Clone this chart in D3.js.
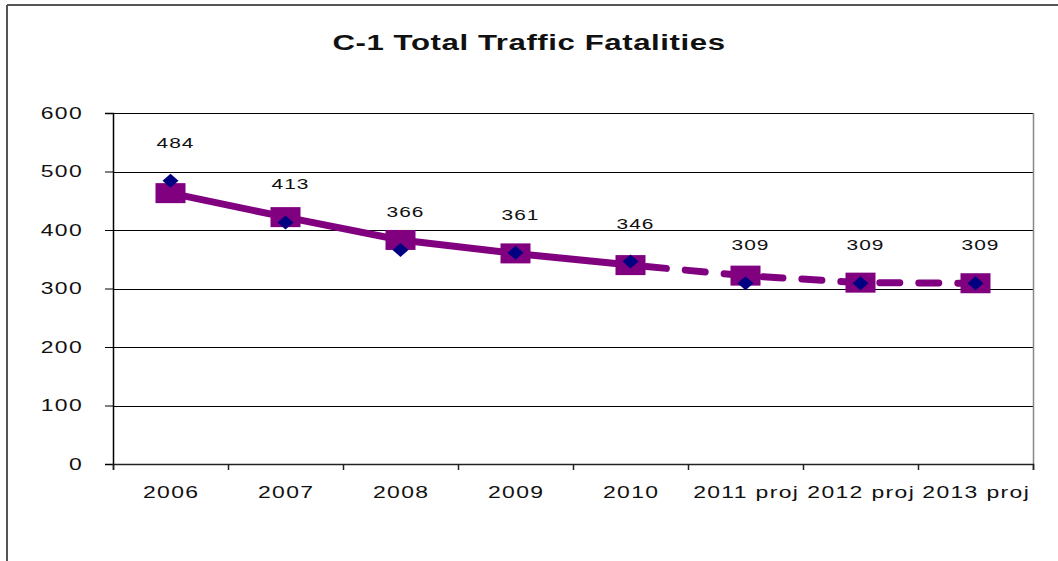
<!DOCTYPE html>
<html>
<head>
<meta charset="utf-8">
<script src="https://cdn.jsdelivr.net/npm/d3@7/dist/d3.min.js"></script>
<style>
  html, body { margin: 0; padding: 0; background: #fff; }
  svg { display: block; }
  text { font-family: "Liberation Sans", Arial, sans-serif; fill: #111; }
</style>
</head>
<body>
<svg id="chart" width="1058" height="561"></svg>
<script>
// ---- data ----
const categories = ["2006", "2007", "2008", "2009", "2010", "2011 proj", "2012 proj", "2013 proj"];
const actualValues = [484, 413, 366, 361, 346, 309, 309, 309];
const trendValues = [463, 422, 383, 360, 340, 322, 310, 309];
const projectedStart = 4; // index where dashed (projected) segment begins
const yTicks = [0, 100, 200, 300, 400, 500, 600];
const titleText = "C-1 Total Traffic Fatalities";

// ---- layout ----
const W = 1058, H = 561;
const plot = { left: 113, right: 1033, top: 113, bottom: 464 };
const STRETCH = 1.35;

const svg = d3.select("#chart");

// outer frame (left + top)
svg.append("line").attr("x1", 7).attr("x2", 7).attr("y1", 5).attr("y2", H)
  .attr("stroke", "#555").attr("stroke-width", 2);
svg.append("line").attr("x1", 7).attr("x2", W).attr("y1", 5).attr("y2", 5)
  .attr("stroke", "#555").attr("stroke-width", 2);

const x = d3.scaleBand().domain(categories).range([plot.left, plot.right]).padding(0);
const xEdge = d3.scaleLinear().domain([0, categories.length]).range([plot.left, plot.right]);
const y = d3.scaleLinear().domain([0, 600]).range([plot.bottom, plot.top]);
const xc = d => x(d) + x.bandwidth() / 2;

function stretchText(sel, tx, ty) {
  sel.attr("x", 0).attr("transform", `translate(${tx},${ty}) scale(${STRETCH},1)`);
}

// title
svg.append("text")
  .attr("text-anchor", "middle")
  .attr("font-size", 21.5)
  .attr("font-weight", "bold")
  .attr("letter-spacing", 0.4)
  .attr("transform", `translate(529,50) scale(1.45,1)`)
  .text(titleText);

// gridlines
svg.append("g").selectAll("line")
  .data(yTicks.filter(v => v > 0))
  .join("line")
  .attr("x1", plot.left).attr("x2", plot.right)
  .attr("y1", d => Math.round(y(d)) + 0.5).attr("y2", d => Math.round(y(d)) + 0.5)
  .attr("stroke", "#000").attr("stroke-width", 1);

// plot right border
svg.append("line")
  .attr("x1", plot.right + 0.5).attr("x2", plot.right + 0.5)
  .attr("y1", plot.top).attr("y2", plot.bottom)
  .attr("stroke", "#888").attr("stroke-width", 1.5);

// y axis
const yAxis = svg.append("g")
  .attr("transform", `translate(${plot.left},0)`)
  .call(d3.axisLeft(y).tickValues(yTicks).tickSize(8).tickPadding(0));
yAxis.select(".domain").attr("stroke", "#000").attr("stroke-width", 1.5);
yAxis.selectAll(".tick line").attr("stroke", "#000");
yAxis.selectAll(".tick text")
  .attr("font-size", 17).attr("font-family", "Liberation Sans, Arial, sans-serif")
  .attr("letter-spacing", 1)
  .attr("fill", "#222")
  .each(function () { stretchText(d3.select(this), -30, 0); });

// x axis: tick marks at category boundaries
const xTicks = svg.append("g")
  .attr("transform", `translate(0,${plot.bottom})`)
  .call(d3.axisBottom(xEdge).ticks(categories.length).tickSize(6).tickFormat(""));
xTicks.select(".domain").attr("stroke", "#222").attr("stroke-width", 1.5);
xTicks.selectAll(".tick line").attr("stroke", "#222").attr("stroke-width", 1.5);

// x axis labels at category centers
const xLabels = svg.append("g")
  .attr("transform", `translate(0,${plot.bottom})`)
  .call(d3.axisBottom(x).tickSize(0).tickPadding(22));
xLabels.select(".domain").remove();
xLabels.selectAll(".tick text")
  .attr("font-size", 17).attr("font-family", "Liberation Sans, Arial, sans-serif")
  .attr("letter-spacing", 1)
  .attr("fill", "#222")
  .each(function () { stretchText(d3.select(this), 0.7, 22); d3.select(this).attr("y", 0); });

// trend line: solid then dashed
const line = d3.line().x(d => xc(d.c)).y(d => y(d.v));
const trendPts = categories.map((c, i) => ({ c, v: trendValues[i] }));
svg.append("path")
  .datum(trendPts.slice(0, projectedStart + 1))
  .attr("d", line)
  .attr("fill", "none").attr("stroke", "#800080").attr("stroke-width", 7)
  .attr("stroke-linejoin", "round").attr("stroke-linecap", "round");
svg.append("path")
  .datum(trendPts.slice(projectedStart))
  .attr("d", line)
  .attr("fill", "none").attr("stroke", "#800080").attr("stroke-width", 7)
  .attr("stroke-dasharray", "20,19").attr("stroke-dashoffset", -16)
  .attr("stroke-linecap", "round");

// trend markers (squares)
svg.append("g").selectAll("rect")
  .data(trendPts)
  .join("rect")
  .attr("x", d => xc(d.c) - 15).attr("y", d => y(d.v) - 10)
  .attr("width", 30).attr("height", 20)
  .attr("fill", "#800080");

// actual markers (diamonds)
const actualPts = categories.map((c, i) => ({ c, v: actualValues[i] }));
svg.append("g").selectAll("path")
  .data(actualPts)
  .join("path")
  .attr("d", d => {
    const cx = xc(d.c), cy = y(d.v);
    return `M${cx},${cy - 7}L${cx + 8},${cy}L${cx},${cy + 7}L${cx - 8},${cy}Z`;
  })
  .attr("fill", "#000080");

// data labels
svg.append("g").selectAll("text")
  .data(actualPts)
  .join("text")
  .attr("text-anchor", "middle")
  .attr("font-size", 15.5)
  .attr("letter-spacing", 0.8)
  .attr("fill", "#222")
  .attr("transform", d => `translate(${xc(d.c) + 5},${y(d.v) - 33}) scale(${STRETCH},1)`)
  .text(d => d.v);
</script>
</body>
</html>
